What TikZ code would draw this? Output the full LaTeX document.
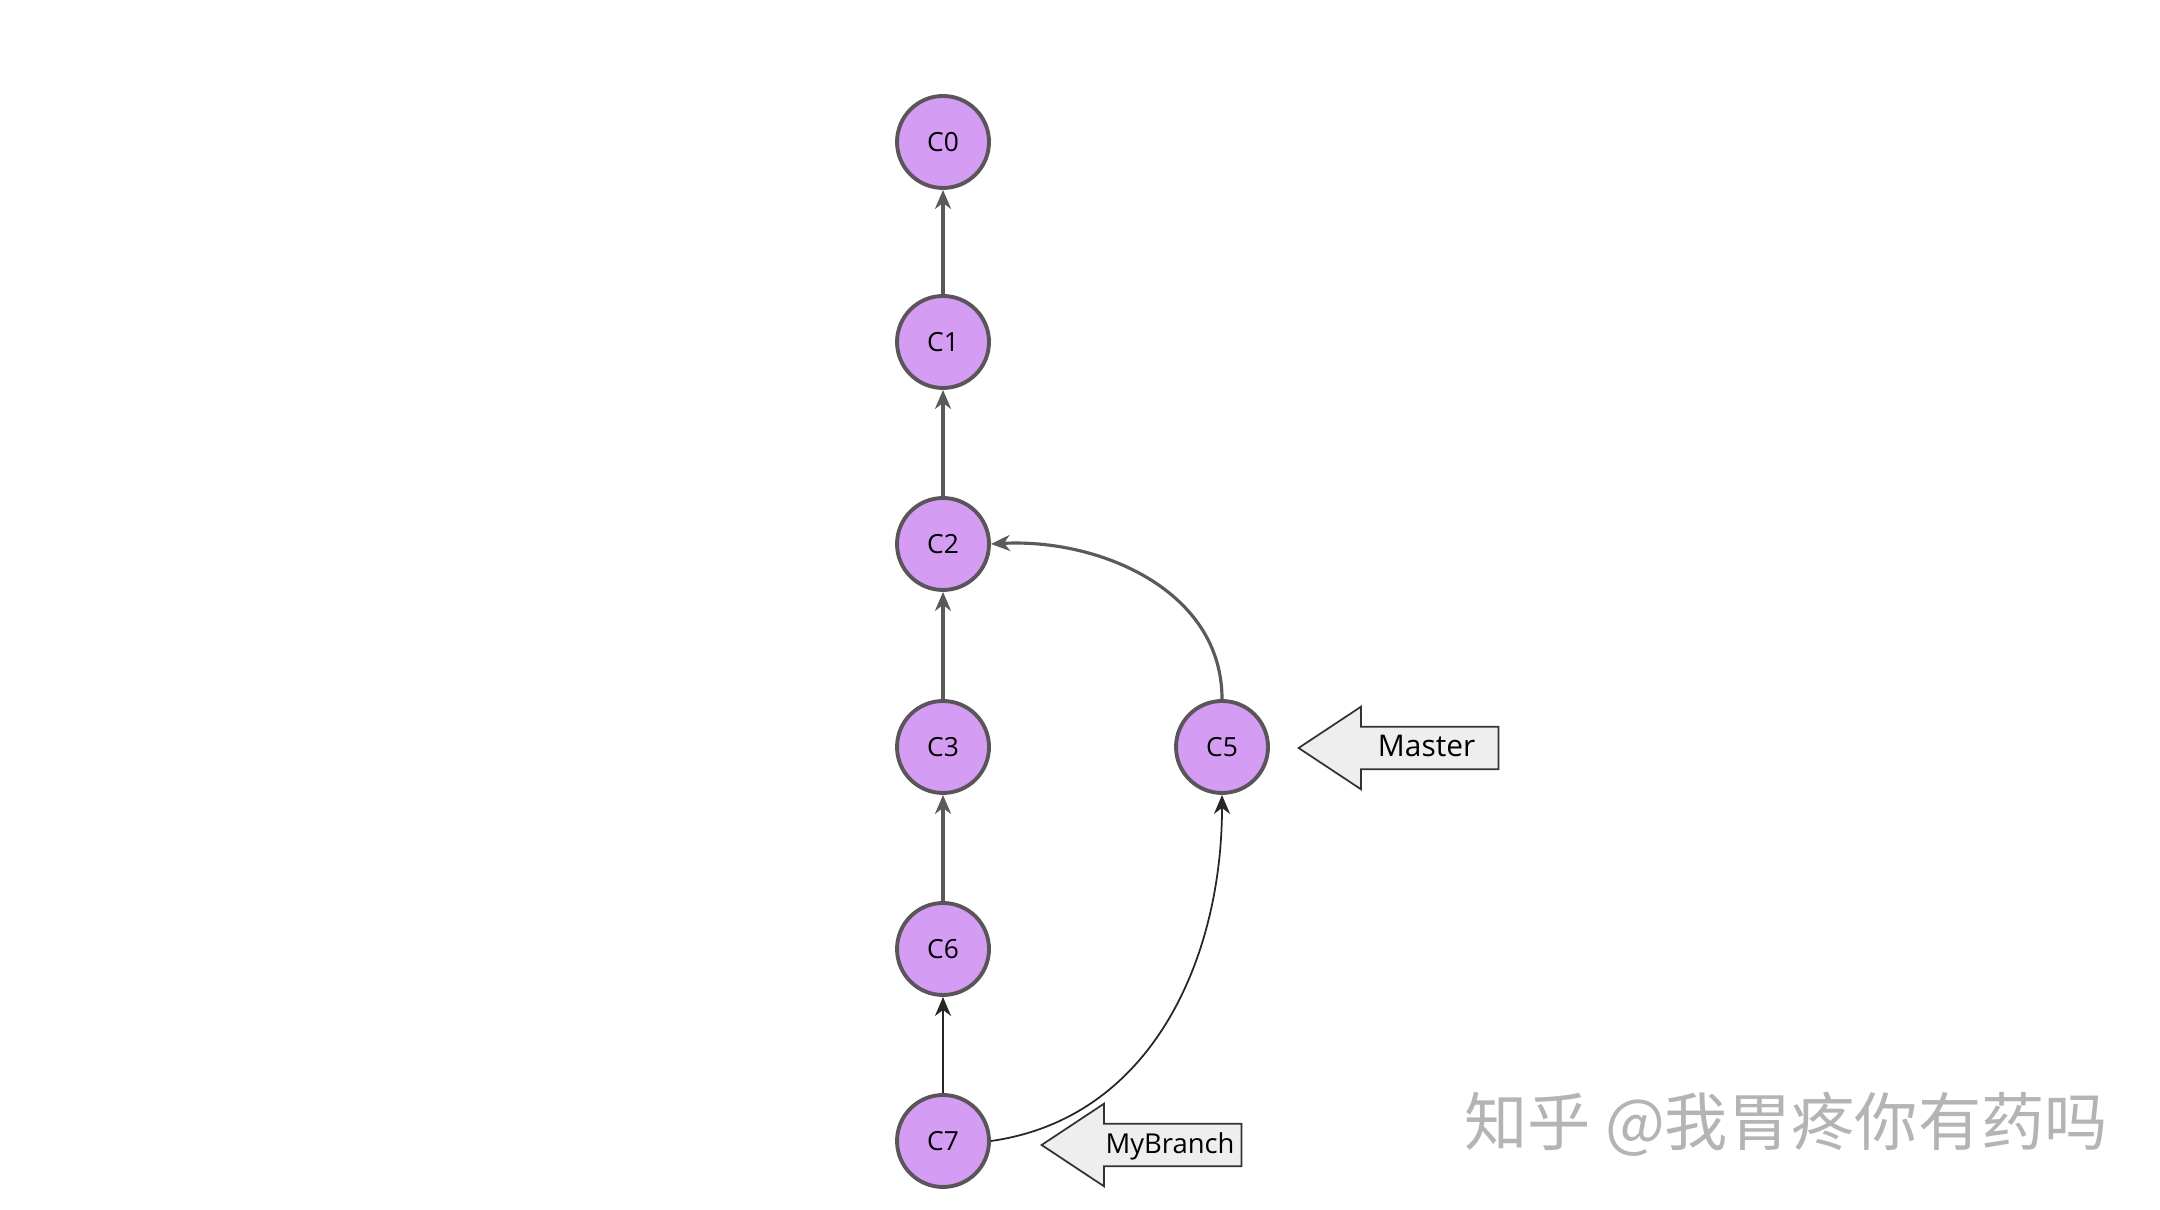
\documentclass[tikz,border=0pt]{standalone}
\usepackage{fontspec}
\setmainfont{Open Sans}
\newfontfamily\cjk{Noto Sans CJK SC}
\usetikzlibrary{arrows.meta, positioning, shapes.arrows}
\definecolor{commitFill}{HTML}{D49CF2}
\definecolor{commitLine}{HTML}{595559}
\definecolor{edgeGray}{HTML}{5A5A5A}
\definecolor{tagFill}{HTML}{EEEEEE}
\definecolor{markGray}{HTML}{B4B4B4}

\begin{document}
\begin{tikzpicture}[>={Stealth[length=1.9mm, width=1.6mm, inset=0.6mm]},
      commit/.style={circle, draw=commitLine, line width=1.1pt,
                     minimum size=9.2mm, inner sep=0pt, fill=commitFill,
                     font=\fontsize{7.5}{9}\selectfont},
      link/.style={->, draw=edgeGray, line width=0.9pt},
      thinlink/.style={->, draw=black!85, line width=0.5pt},
      branchtag/.style={single arrow, shape border rotate=180, draw=black!80,
                        fill=tagFill, line width=0.5pt,
                        minimum height=2cm, single arrow head extend=0.2cm,
                        single arrow tip angle=67, inner xsep=1pt,
                        text height=7pt, text depth=2pt, inner ysep=1.3pt,
                        font=\fontsize{8.5}{10}\selectfont}]
    \useasboundingbox (0,0) rectangle (21.6,12.1);

    \node[commit] (c0) at (9.43,10.68) {C0};
    \node[commit] (c1) at (9.43,8.68)  {C1};
    \node[commit] (c2) at (9.43,6.66)  {C2};
    \node[commit] (c3) at (9.43,4.63)  {C3};
    \node[commit] (c6) at (9.43,2.61)  {C6};
    \node[commit] (c7) at (9.43,0.69)  {C7};
    \node[commit] (c5) at (12.22,4.63) {C5};

    \node[branchtag, anchor=tip] (master) at (12.97,4.62) {\hspace{0.8em}Master};
    \node[branchtag, anchor=tip, font=\fontsize{7.8}{9}\selectfont] (mybranch) at (10.40,0.65) {\hspace{0.9em}MyBranch};

    \draw[link] (c1) -- (c0);
    \draw[link] (c2) -- (c1);
    \draw[link] (c3) -- (c2);
    \draw[link] (c6) -- (c3);
    \draw[thinlink] (c7) -- (c6);
    \draw[link] (c5.north) to[out=90, in=3] (c2.east);
    \draw[thinlink] (c7.east) to[out=8, in=-90] (c5.south);

    % watermark
    \node[text=markGray, font=\cjk\fontsize{18}{20}\selectfont, anchor=west]
      (mark) at (14.52,0.86) {知乎 @我胃疼你有药吗};
  \end{tikzpicture}
\end{document}
